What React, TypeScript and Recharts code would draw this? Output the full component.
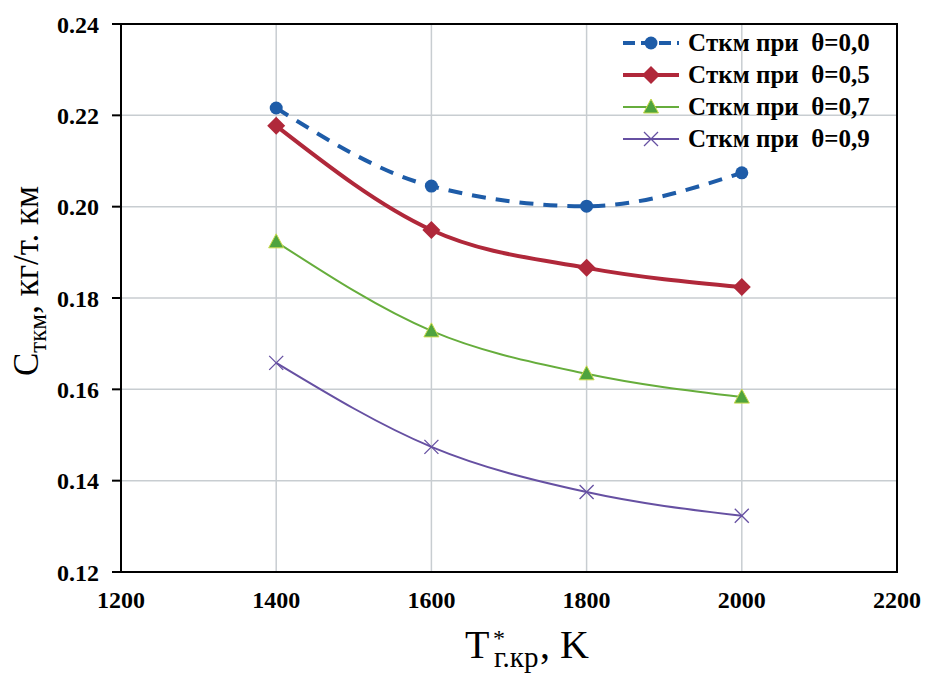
import React from "react";
import {
  LineChart,
  Line,
  XAxis,
  YAxis,
  CartesianGrid,
  ReferenceArea,
  Label,
} from "recharts";

// temperatures, K
const temps = [1400, 1600, 1800, 2000];

// specific fuel consumption, kg/t·km, for each theta
const theta00 = [0.2216, 0.2045, 0.2001, 0.2074];
const theta05 = [0.2177, 0.1949, 0.1866, 0.1824];
const theta07 = [0.1923, 0.1728, 0.1634, 0.1583];
const theta09 = [0.1658, 0.1474, 0.1375, 0.1323];

const xTicks = [1200, 1400, 1600, 1800, 2000, 2200];
const yTicks = [0.12, 0.14, 0.16, 0.18, 0.2, 0.22, 0.24];

const seriesNames = [
  "Cткм при  θ=0,0",
  "Cткм при  θ=0,5",
  "Cткм при  θ=0,7",
  "Cткм при  θ=0,9",
];

const data = temps.map((t, i) => ({
  t,
  s0: theta00[i],
  s5: theta05[i],
  s7: theta07[i],
  s9: theta09[i],
}));

type Shape = "circle" | "diamond" | "triangle" | "cross";

const series: {
  key: string;
  name: string;
  color: string;
  width: number;
  dash?: string;
  shape: Shape;
}[] = [
  { key: "s0", name: seriesNames[0], color: "#1E5CA8", width: 4, dash: "14 10", shape: "circle" },
  { key: "s5", name: seriesNames[1], color: "#B0283A", width: 4, shape: "diamond" },
  { key: "s7", name: seriesNames[2], color: "#66AD3C", width: 2, shape: "triangle" },
  { key: "s9", name: seriesNames[3], color: "#6650A2", width: 2, shape: "cross" },
];

const SERIF = "Liberation Serif, Times New Roman, serif";

function marker(shape: Shape, color: string, cx: number, cy: number, key?: string) {
  switch (shape) {
    case "circle":
      return <circle key={key} cx={cx} cy={cy} r={6.5} fill={color} />;
    case "diamond":
      return (
        <path
          key={key}
          d={`M${cx},${cy - 9} L${cx + 9},${cy} L${cx},${cy + 9} L${cx - 9},${cy} Z`}
          fill={color}
        />
      );
    case "triangle":
      return (
        <path
          key={key}
          d={`M${cx},${cy - 8} L${cx + 7.5},${cy + 6} L${cx - 7.5},${cy + 6} Z`}
          fill="#4FA33E"
          stroke="#C9D94A"
          strokeWidth={1}
        />
      );
    default:
      return (
        <g key={key} stroke={color} strokeWidth={1.3}>
          <line x1={cx - 7} y1={cy - 7} x2={cx + 7} y2={cy + 7} />
          <line x1={cx - 7} y1={cy + 7} x2={cx + 7} y2={cy - 7} />
        </g>
      );
  }
}

const makeDot = (shape: Shape, color: string) => (props: any) =>
  marker(shape, color, props.cx, props.cy, `${shape}-${props.index}`);

// rotated y title with subscript
const YTitle = () => (
  <text
    x={38}
    y={281}
    transform="rotate(-90, 38, 281)"
    textAnchor="middle"
    fontFamily={SERIF}
    fontSize={35}
    fill="#000"
  >
    С
    <tspan dy={8} fontSize={25}>
      ткм
    </tspan>
    <tspan dy={-8}>, кг/т. км</tspan>
  </text>
);

// x title: T with superscript star and subscript
const XTitle = () => (
  <g fontFamily={SERIF} fill="#000">
    <text x={465} y={658} fontSize={40}>
      T
    </text>
    <text x={493} y={646} fontSize={24}>
      *
    </text>
    <text x={494} y={667} fontSize={29}>
      г.кр
    </text>
    <text x={540} y={658} fontSize={40}>
      , K
    </text>
  </g>
);

const tickStyle = {
  fontSize: 24,
  fontWeight: "bold",
  fill: "#000",
  fontFamily: SERIF,
};

const LegendBox = () => (
  <div
    style={{
      position: "absolute",
      left: 618,
      top: 27,
      fontFamily: SERIF,
      fontWeight: "bold",
      fontSize: 25,
    }}
  >
    {series.map((s) => (
      <div
        key={s.key}
        style={{ display: "flex", alignItems: "center", height: 32, whiteSpace: "pre" }}
      >
        <svg width={66} height={32}>
          <line
            x1={5}
            y1={16}
            x2={61}
            y2={16}
            stroke={s.color}
            strokeWidth={s.width}
            strokeDasharray={s.dash ? "12 6" : undefined}
          />
          {marker(s.shape, s.color, 33, 16)}
        </svg>
        <span style={{ marginLeft: 4 }}>{s.name}</span>
      </div>
    ))}
  </div>
);

export default function App() {
  return (
    <div
      style={{
        position: "absolute",
        left: 0,
        top: 0,
        width: 929,
        height: 681,
        background: "#fff",
      }}
    >
      <LineChart
        width={929}
        height={681}
        data={data}
        margin={{ top: 24, right: 32, bottom: 0, left: 0 }}
      >
        <CartesianGrid stroke="#C8CDD1" strokeWidth={1.5} />
        <ReferenceArea
          x1={1200}
          x2={2200}
          y1={0.12}
          y2={0.24}
          fill="none"
          stroke="#000"
          strokeWidth={2}
          fillOpacity={0}
        />
        <XAxis
          dataKey="t"
          type="number"
          domain={[1200, 2200]}
          ticks={xTicks}
          height={109}
          tickSize={0}
          tickMargin={19}
          axisLine={{ stroke: "#000", strokeWidth: 2 }}
          tickLine={false}
          tick={tickStyle}
        >
          <Label content={XTitle} />
        </XAxis>
        <YAxis
          type="number"
          domain={[0.12, 0.24]}
          ticks={yTicks}
          width={121}
          tickSize={9}
          tickMargin={13}
          tickFormatter={(v: number) => v.toFixed(2)}
          axisLine={{ stroke: "#000", strokeWidth: 2 }}
          tickLine={{ stroke: "#000", strokeWidth: 2 }}
          tick={tickStyle}
        >
          <Label content={YTitle} />
        </YAxis>
        {series.map((s) => (
          <Line
            key={s.key}
            dataKey={s.key}
            name={s.name}
            type="monotone"
            stroke={s.color}
            strokeWidth={s.width}
            strokeDasharray={s.dash}
            dot={makeDot(s.shape, s.color)}
            activeDot={false}
            isAnimationActive={false}
          />
        ))}
      </LineChart>
      <LegendBox />
    </div>
  );
}
